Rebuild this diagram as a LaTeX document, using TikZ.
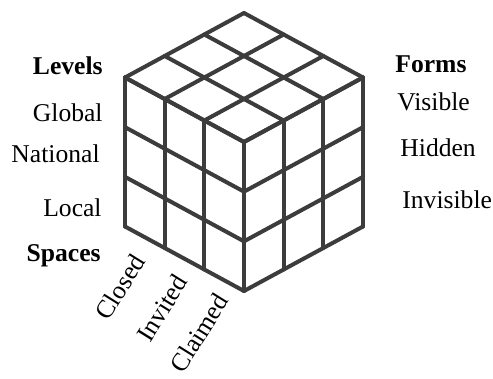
\documentclass[tikz,border=0pt]{standalone}
\usepackage{fontspec}
\setmainfont{Liberation Serif}
\usetikzlibrary{calc}

\definecolor{cubegray}{HTML}{3C3C3C}

\begin{document}
\begin{tikzpicture}[x=0.5pt,y=-0.5pt,
  edge/.style={line width=2pt,draw=cubegray,line cap=round,line join=round},
  lbl/.style={inner sep=0pt,font=\fontsize{12.8}{15}\selectfont},
  head/.style={lbl,font=\fontsize{12.8}{15}\selectfont\bfseries},
  space/.style={lbl,rotate=58,anchor=center}]
\useasboundingbox (0,0) rectangle (493,379);

% Front corner and the three edge steps (one third of an edge)
\coordinate (F) at (244,142);
\coordinate (A) at (-39.667,-21.5);
\coordinate (B) at (39.667,-21.5);
\coordinate (C) at (0,49.667);

% Grid of the three visible faces
\foreach \i in {0,1,2,3} {
  % top face
  \draw[edge] ($(F)+\i*(A)$) -- ++(119,-64.5);
  \draw[edge] ($(F)+\i*(B)$) -- ++(-119,-64.5);
  % left face
  \draw[edge] ($(F)+\i*(A)$) -- ++(0,149);
  \draw[edge] ($(F)+\i*(C)$) -- ++(-119,-64.5);
  % right face
  \draw[edge] ($(F)+\i*(B)$) -- ++(0,149);
  \draw[edge] ($(F)+\i*(C)$) -- ++(119,-64.5);
}

% Levels
\node[head,anchor=mid east] (levels) at (103,70) {Levels};
\node[lbl,anchor=mid east] (global) at (103,117) {Global};
\node[lbl,anchor=mid east] (national) at (100,158) {National};
\node[lbl,anchor=mid east] (local) at (102,212) {Local};
\node[head,anchor=mid east] (spaces) at (101,257) {Spaces};

% Forms
\node[head,anchor=mid west] (forms) at (395,68) {Forms};
\node[lbl,anchor=mid west] (visible) at (397,106) {Visible};
\node[lbl,anchor=mid west] (hidden) at (400,152) {Hidden};
\node[lbl,anchor=mid west] (invisible) at (402,204) {Invisible};

% Spaces
\node[space] (closed) at (120,287) {Closed};
\node[space] (invited) at (162,308) {Invited};
\node[space] (claimed) at (199,333) {Claimed};
\end{tikzpicture}
\end{document}
